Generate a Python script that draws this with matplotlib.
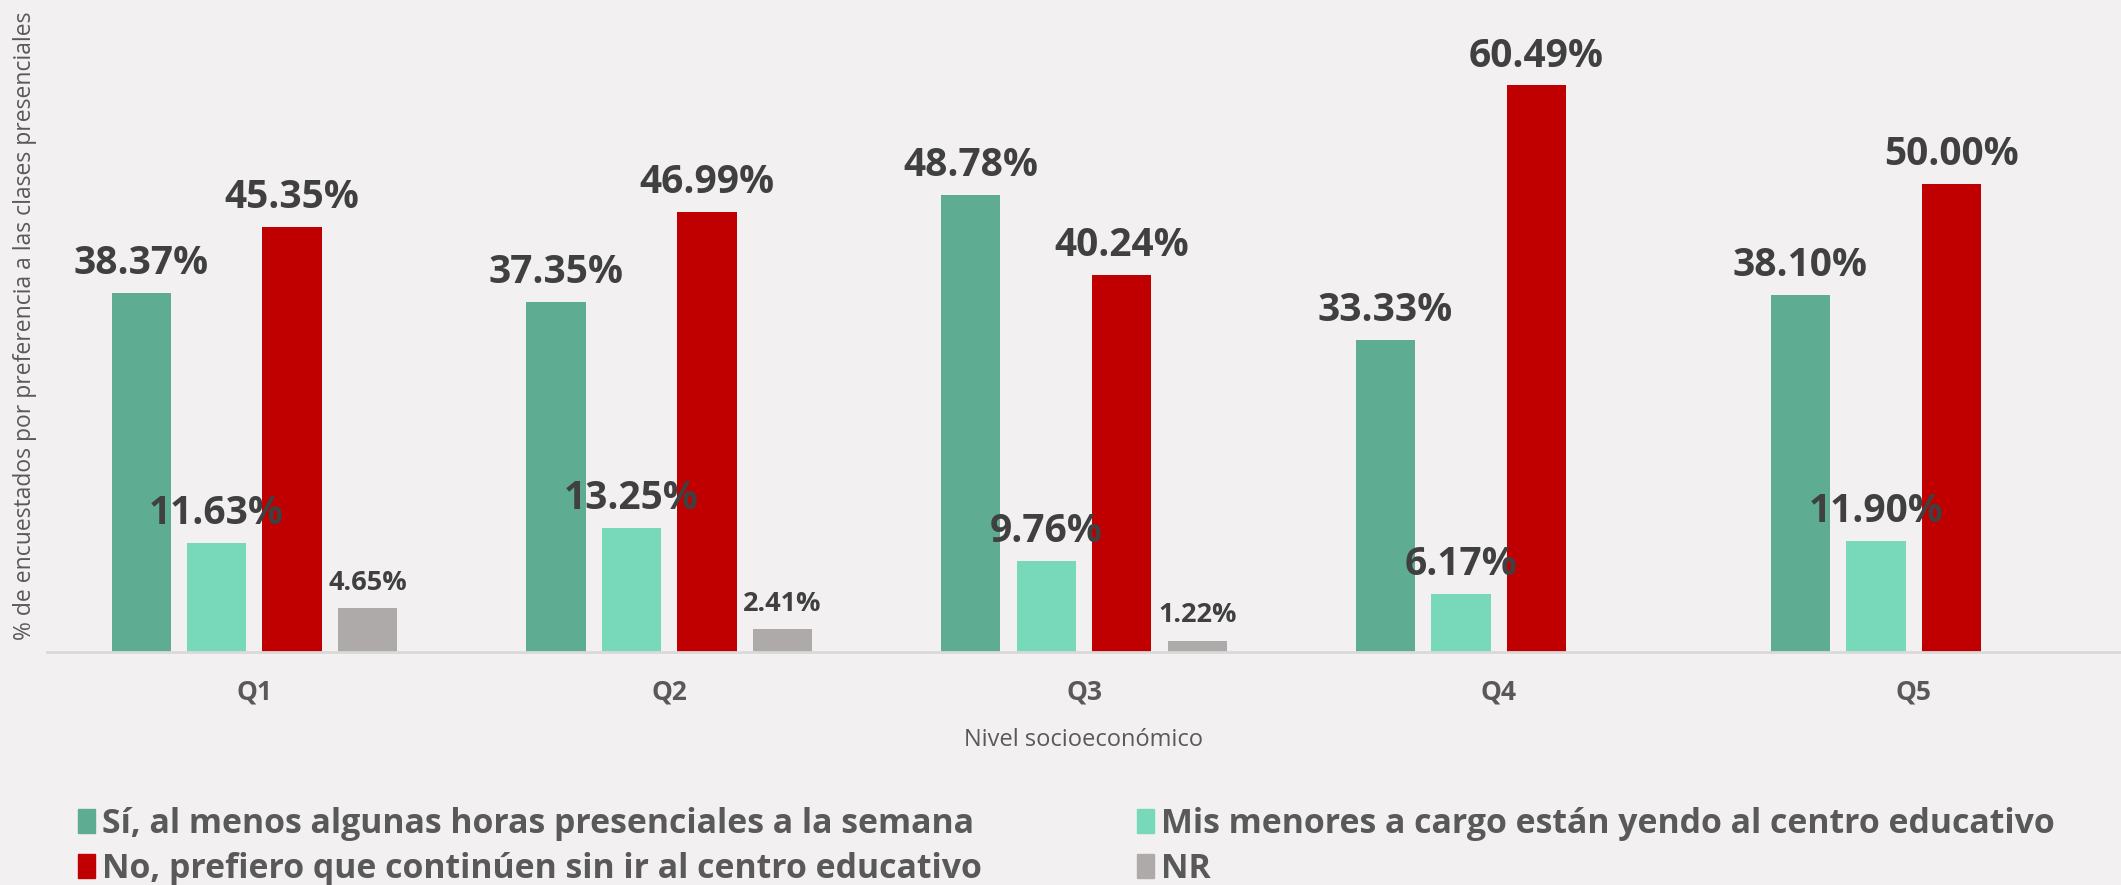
import matplotlib.pyplot as plt
import numpy as np
from matplotlib.patches import Patch

# data
categories = ['Q1', 'Q2', 'Q3', 'Q4', 'Q5']
si_algunas = [38.37, 37.35, 48.78, 33.33, 38.10]
mis_menores = [11.63, 13.25, 9.76, 6.17, 11.90]
no_prefiero = [45.35, 46.99, 40.24, 60.49, 50.00]
nr = [4.65, 2.41, 1.22, 0.0, 0.0]

series_names = ['Sí, al menos algunas horas presenciales a la semana',
                'Mis menores a cargo están yendo al centro educativo',
                'No, prefiero que continúen sin ir al centro educativo',
                'NR']
colors = ['#5EAD93', '#78D9BA', '#C00000', '#AEAAAA']

bg = '#F2F0F1'
label_color = '#404040'
text_color = '#595959'

plt.rcParams['font.family'] = ['Open Sans', 'DejaVu Sans']

fig = plt.figure(figsize=(21.21, 8.85), dpi=100, facecolor=bg)
ax = fig.add_axes([47 / 2121, 1 - 652 / 885, 1 - 47 / 2121, 652 / 885])
ax.set_facecolor(bg)

x = np.arange(len(categories))
step = 0.182
width = 0.143
all_series = [si_algunas, mis_menores, no_prefiero, nr]

for i, (vals, col) in enumerate(zip(all_series, colors)):
    pos = x + (i - 1.5) * step
    ax.bar(pos, vals, width=width, color=col, zorder=2)
    for px, v in zip(pos, vals):
        if v <= 0:
            continue
        small = (i == 3)
        ax.annotate(f'{v:.2f}%', (px, v), xytext=(0, 13.5), textcoords='offset points',
                    ha='center', va='baseline', fontsize=19.5 if small else 28,
                    fontweight='bold', color=label_color, zorder=3)

ax.set_xlim(-0.5, 4.5)
ax.set_ylim(0, 69.6)
ax.set_yticks([])
for s in ['top', 'right', 'left']:
    ax.spines[s].set_visible(False)
ax.spines['bottom'].set_color('#D9D9D9')
ax.spines['bottom'].set_linewidth(2)

ax.set_xticks(x)
ax.set_xticklabels(categories, fontsize=19, fontweight='bold', color=text_color)
ax.tick_params(axis='x', length=0, pad=19)

ax.set_xlabel('Nivel socioeconómico', fontsize=17, color=text_color, labelpad=16)
ax.set_ylabel('% de encuestados por preferencia a las clases presenciales',
              fontsize=16.5, color=text_color)
ax.yaxis.set_label_coords(-0.005, 0.5)

handles = [Patch(color=colors[0]), Patch(color=colors[2]),
           Patch(color=colors[1]), Patch(color=colors[3])]
labels = [series_names[0], series_names[2], series_names[1], series_names[3]]
leg = fig.legend(handles, labels, loc='upper left', bbox_to_anchor=(78 / 2121, 1 - 807 / 885),
                 ncol=2, frameon=False, prop={'size': 24.4, 'weight': 'bold'},
                 labelcolor=text_color, handlelength=0.5, handleheight=0.7,
                 handletextpad=0.2, columnspacing=4.6, labelspacing=0.33,
                 borderaxespad=0, borderpad=0)

fig.savefig('out.png', dpi=100, facecolor=bg)
